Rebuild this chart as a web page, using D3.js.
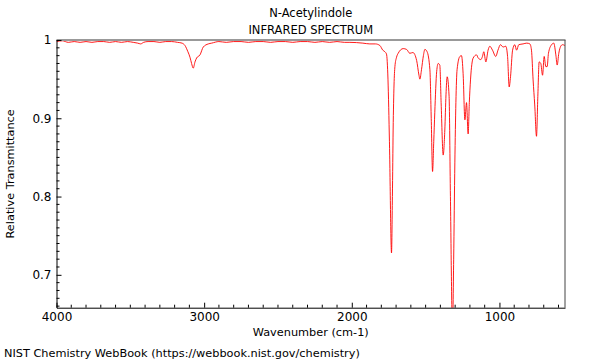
<!DOCTYPE html>
<html>
<head>
<meta charset="utf-8">
<script src="https://cdn.jsdelivr.net/npm/d3@7"></script>
<style>
  body { margin: 0; background: #fff; }
  text { font-family: "DejaVu Sans", sans-serif; }
</style>
</head>
<body>
<script>
// spectrum: wavenumber (cm-1) and relative transmittance
var wavenumbers = [4000, 3960, 3920, 3880, 3840, 3800, 3760, 3720, 3680, 3640, 3600, 3560, 3520, 3480,
  3450, 3430, 3410, 3380, 3340, 3300, 3260, 3220, 3180, 3150, 3130, 3110, 3096, 3085, 3074, 3062,
  3051, 3028, 3006, 2972, 2949, 2900, 2850, 2800, 2750, 2700, 2650, 2600, 2550, 2500, 2450, 2400,
  2350, 2300, 2250, 2200, 2150, 2100, 2050, 2013, 1925, 1878, 1840, 1810, 1790, 1776, 1765, 1755,
  1745, 1731, 1725, 1720, 1708, 1697, 1686, 1652, 1629, 1607, 1586, 1561, 1545, 1539, 1528, 1515,
  1505, 1490, 1471, 1462, 1453, 1445, 1438, 1425, 1415, 1404, 1395, 1381, 1370, 1362, 1354, 1341,
  1332, 1318, 1310, 1302, 1295, 1287, 1268, 1257, 1246, 1234, 1223, 1212, 1204, 1196, 1178, 1155,
  1144, 1126, 1115, 1106, 1092, 1077, 1065, 1047, 1025, 1010, 993, 975, 957, 945, 934, 925,
  911, 896, 884, 869, 840, 815, 794, 783, 772, 761, 749, 740, 731, 720, 708, 697,
  686, 677, 668, 647, 632, 618, 609, 598, 585, 573, 557];
var transmittance = [0.998, 0.999, 0.997, 0.998, 0.997, 0.998, 0.997, 0.998, 0.998, 0.997, 0.998, 0.997, 0.998, 0.997,
  0.996, 0.995, 0.997, 0.998, 0.998, 0.997, 0.998, 0.998, 0.997, 0.996, 0.993, 0.985, 0.978, 0.970, 0.964, 0.972,
  0.977, 0.981, 0.991, 0.995, 0.996, 0.998, 0.997, 0.998, 0.998, 0.997, 0.998, 0.998, 0.997, 0.998, 0.998, 0.997,
  0.998, 0.998, 0.997, 0.998, 0.997, 0.998, 0.997, 0.997, 0.996, 0.995, 0.995, 0.993, 0.987, 0.985, 0.982, 0.950,
  0.870, 0.728, 0.800, 0.885, 0.966, 0.978, 0.983, 0.989, 0.988, 0.983, 0.984, 0.974, 0.955, 0.950, 0.962, 0.980,
  0.988, 0.985, 0.962, 0.900, 0.832, 0.870, 0.907, 0.960, 0.970, 0.968, 0.920, 0.853, 0.885, 0.930, 0.953, 0.928,
  0.800, 0.630, 0.720, 0.843, 0.920, 0.962, 0.979, 0.980, 0.957, 0.898, 0.920, 0.880, 0.920, 0.949, 0.977, 0.981,
  0.977, 0.975, 0.979, 0.985, 0.972, 0.987, 0.992, 0.987, 0.979, 0.987, 0.994, 0.991, 0.992, 0.979, 0.940, 0.953,
  0.987, 0.994, 0.987, 0.994, 0.995, 0.996, 0.995, 0.987, 0.949, 0.917, 0.877, 0.928, 0.972, 0.970, 0.955, 0.979,
  0.966, 0.966, 0.983, 0.994, 0.996, 0.981, 0.968, 0.983, 0.992, 0.994, 0.993];

var xTickValues = [4000, 3000, 2000, 1000];
var yTickValues = [0.7, 0.8, 0.9, 1];
var chartTitle = "N-Acetylindole";
var chartSubtitle = "INFRARED SPECTRUM";

var W = 600, H = 360;
var mLeft = 56.5, mRight = 565, mTop = 40, mBottom = 307.7;

var svg = d3.select("body").append("svg")
  .attr("width", W)
  .attr("height", H);

var x = d3.scaleLinear().domain([4000, 556]).range([mLeft, mRight]);
var y = d3.scaleLinear().domain([0.658, 1]).range([mBottom, mTop]);

svg.append("defs").append("clipPath").attr("id", "plotclip")
  .append("rect")
  .attr("x", mLeft).attr("y", mTop)
  .attr("width", mRight - mLeft).attr("height", mBottom - mTop);

var pts = wavenumbers.map(function(w, i) { return [w, transmittance[i]]; });

var line = d3.line()
  .x(function(d) { return x(d[0]); })
  .y(function(d) { return y(d[1]); })
  .curve(d3.curveMonotoneX);

svg.append("path")
  .datum(pts)
  .attr("clip-path", "url(#plotclip)")
  .attr("d", line)
  .attr("fill", "none")
  .attr("stroke", "#ff0000")
  .attr("stroke-width", 0.9);

// frame: grey top, dark right
svg.append("line")
  .attr("x1", mLeft).attr("x2", mRight + 0.5)
  .attr("y1", mTop).attr("y2", mTop)
  .attr("stroke", "#999").attr("stroke-width", 2);
svg.append("line")
  .attr("x1", mRight).attr("x2", mRight)
  .attr("y1", mTop).attr("y2", mBottom)
  .attr("stroke", "#444").attr("stroke-width", 1);

// minor ticks
var xMinor = d3.range(600, 4000, 100).filter(function(v) { return v % 1000 != 0; });
var yMinor = d3.range(66, 100).map(function(v) { return v / 100; }).filter(function(v) { return Math.round(v * 100) % 10 != 0; });

var xAxis = svg.append("g")
  .attr("transform", "translate(0," + mBottom + ")")
  .call(d3.axisBottom(x).tickValues(xTickValues).tickFormat(d3.format("d"))
    .tickSizeInner(-5).tickSizeOuter(0).tickPadding(5));
xAxis.selectAll(".minor").data(xMinor).enter().append("line")
  .attr("class", "minor")
  .attr("x1", function(d) { return x(d); }).attr("x2", function(d) { return x(d); })
  .attr("y1", 0).attr("y2", -3)
  .attr("stroke", "#000");

var yAxis = svg.append("g")
  .attr("transform", "translate(" + mLeft + ",0)")
  .call(d3.axisLeft(y).tickValues(yTickValues).tickFormat(function(d) { return d == 1 ? "1" : d3.format(".1f")(d); })
    .tickSizeInner(-5).tickSizeOuter(0).tickPadding(5));
yAxis.selectAll(".minor").data(yMinor).enter().append("line")
  .attr("class", "minor")
  .attr("y1", function(d) { return y(d); }).attr("y2", function(d) { return y(d); })
  .attr("x1", 0).attr("x2", 3)
  .attr("stroke", "#000");

svg.selectAll(".tick text")
  .attr("font-family", "DejaVu Sans, sans-serif")
  .attr("font-size", 12)
  .attr("fill", "#000");
svg.selectAll(".domain").attr("stroke", "#000");

// titles
var cx = (mLeft + mRight) / 2;
svg.append("text").attr("x", cx).attr("y", 17).attr("text-anchor", "middle")
  .attr("font-size", 11.5).text(chartTitle);
svg.append("text").attr("x", cx).attr("y", 34).attr("text-anchor", "middle")
  .attr("font-size", 11.5).text(chartSubtitle);

svg.append("text").attr("x", cx).attr("y", 336).attr("text-anchor", "middle")
  .attr("font-size", 11.3).text("Wavenumber (cm-1)");

svg.append("text")
  .attr("transform", "translate(14," + ((mTop + mBottom) / 2) + ") rotate(-90)")
  .attr("text-anchor", "middle")
  .attr("font-size", 11.3).text("Relative Transmittance");

svg.append("text").attr("x", 4).attr("y", 357)
  .attr("font-size", 11.3).text("NIST Chemistry WebBook (https://webbook.nist.gov/chemistry)");
</script>
</body>
</html>
